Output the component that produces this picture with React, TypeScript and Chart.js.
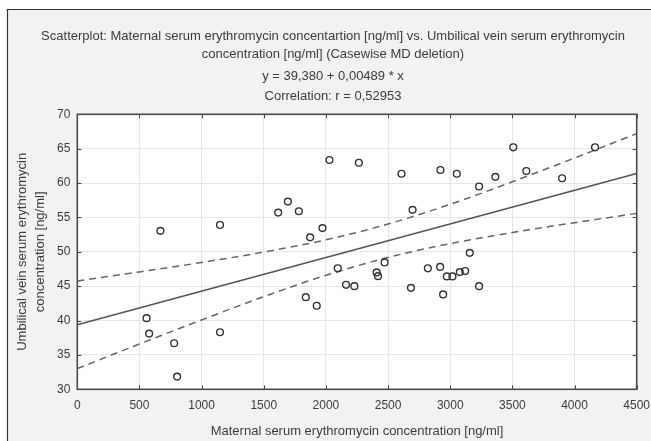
import React, { useEffect, useRef } from "react";
import { Chart, registerables } from "chart.js";

Chart.register(...registerables);

// Scatter data
const maternalX = [557, 578, 669, 779, 803, 1148, 1148, 1616, 1694, 1782, 1838, 1873, 1926, 1972, 2028, 2095, 2162, 2229, 2265, 2408, 2419, 2472, 2608, 2684, 2697, 2820, 2919, 2921, 2943, 2973, 3018, 3053, 3077, 3120, 3157, 3232, 3232, 3363, 3507, 3612, 3900, 4165];
const umbilicalY = [40.35, 38.1, 53.05, 36.7, 31.85, 53.9, 38.3, 55.7, 57.3, 55.9, 43.4, 52.1, 42.15, 53.45, 63.35, 47.6, 45.2, 45.0, 62.95, 47.0, 46.46, 48.45, 61.35, 44.76, 56.1, 47.6, 47.8, 61.9, 43.8, 46.42, 46.42, 61.35, 47.05, 47.2, 49.85, 59.5, 45.0, 60.9, 65.2, 61.75, 60.7, 65.2];

// Regression line end points (y = 39,380 + 0,00489 * x)
const regX = [0, 4500];
const regY = [39.38, 61.385];

// 95% confidence band, read at each 500 step
const bandX = [0, 500, 1000, 1500, 2000, 2500, 3000, 3500, 4000, 4500];
const bandUpper = [45.75, 47.07, 48.45, 49.96, 51.74, 54.04, 56.91, 60.19, 63.64, 67.19];
const bandLower = [33.01, 36.59, 40.09, 43.48, 46.58, 49.18, 51.19, 52.81, 54.24, 55.59];

// Tick labels
const xTickLabels = ["0", "500", "1000", "1500", "2000", "2500", "3000", "3500", "4000", "4500"];
const yTickLabels = ["30", "35", "40", "45", "50", "55", "60", "65", "70"];

// Texts
const titleLines = [
  "Scatterplot: Maternal serum erythromycin concentartion [ng/ml] vs. Umbilical vein serum erythromycin",
  "concentration [ng/ml] (Casewise MD deletion)",
  "y = 39,380 + 0,00489 * x",
  "Correlation: r = 0,52953",
];
const xTitle = "Maternal serum erythromycin concentration [ng/ml]";
const yTitle = ["Umbilical vein serum erythromycin", "concentration [ng/ml]"];

const FONT = "'Liberation Sans', Arial, sans-serif";
const TEXT = "#3c3c3c";

const framePlugin = {
  id: "framePlugin",
  beforeDraw(chart: any) {
    const { ctx, chartArea: a, width, height } = chart;
    ctx.save();
    ctx.fillStyle = "#ffffff";
    ctx.fillRect(0, 0, width, height);
    ctx.fillStyle = "#f2f2f2";
    ctx.fillRect(7, 9, width - 7, height - 9);
    ctx.strokeStyle = "#333333";
    ctx.lineWidth = 1.2;
    ctx.beginPath();
    ctx.moveTo(7.5, height);
    ctx.lineTo(7.5, 9.5);
    ctx.lineTo(width, 9.5);
    ctx.stroke();
    ctx.fillStyle = "#ffffff";
    ctx.fillRect(a.left, a.top, a.right - a.left, a.bottom - a.top);
    // title
    ctx.fillStyle = TEXT;
    ctx.font = "13px " + FONT;
    ctx.textAlign = "center";
    ctx.textBaseline = "middle";
    const ys = [36.7, 54.3, 76.7, 96.7];
    titleLines.forEach((t, i) => ctx.fillText(t, 333, ys[i]));
    ctx.restore();
  },
  afterDatasetsDraw(chart: any) {
    const { ctx, chartArea: a, scales } = chart;
    ctx.save();
    ctx.strokeStyle = "#444444";
    ctx.lineWidth = 1;
    const len = 4;
    ctx.beginPath();
    scales.x.ticks.forEach((t: any) => {
      const px = Math.round(scales.x.getPixelForValue(t.value)) + 0.5;
      ctx.moveTo(px, a.top);
      ctx.lineTo(px, a.top + len);
      ctx.moveTo(px, a.bottom);
      ctx.lineTo(px, a.bottom - len);
    });
    scales.y.ticks.forEach((t: any) => {
      const py = Math.round(scales.y.getPixelForValue(t.value)) + 0.5;
      ctx.moveTo(a.left, py);
      ctx.lineTo(a.left + len, py);
      ctx.moveTo(a.right, py);
      ctx.lineTo(a.right - len, py);
    });
    ctx.stroke();
    ctx.strokeStyle = "#4a4a4a";
    ctx.lineWidth = 1.6;
    ctx.strokeRect(a.left, a.top, a.right - a.left, a.bottom - a.top);
    ctx.restore();
  },
};

export default function App() {
  const ref = useRef<HTMLCanvasElement>(null);
  useEffect(() => {
    if (!ref.current) return;
    const points = maternalX.map((x, i) => ({ x, y: umbilicalY[i] }));
    const reg = regX.map((x, i) => ({ x, y: regY[i] }));
    const up = bandX.map((x, i) => ({ x, y: bandUpper[i] }));
    const lo = bandX.map((x, i) => ({ x, y: bandLower[i] }));
    const chart = new Chart(ref.current, {
      type: "scatter",
      data: {
        datasets: [
          {
            data: points,
            showLine: false,
            pointStyle: "circle",
            pointRadius: 3.4,
            pointBackgroundColor: "rgba(0,0,0,0)",
            pointBorderColor: "#333333",
            pointBorderWidth: 1.4,
          },
          {
            data: reg,
            showLine: true,
            pointRadius: 0,
            borderColor: "#555555",
            borderWidth: 1.5,
          },
          {
            data: up,
            showLine: true,
            pointRadius: 0,
            borderColor: "#666666",
            borderWidth: 1.5,
            borderDash: [7, 5],
            cubicInterpolationMode: "monotone",
          },
          {
            data: lo,
            showLine: true,
            pointRadius: 0,
            borderColor: "#666666",
            borderWidth: 1.5,
            borderDash: [7, 5],
            cubicInterpolationMode: "monotone",
          },
        ],
      } as any,
      options: {
        responsive: false,
        animation: false,
        devicePixelRatio: 1,
        layout: { padding: { top: 114.3, right: 14.3, left: 0, bottom: 0 } },
        plugins: {
          legend: { display: false },
          tooltip: { enabled: false },
          title: { display: false },
        },
        scales: {
          x: {
            type: "linear",
            min: 0,
            max: 4500,
            afterFit: (s: any) => {
              s.height = 51.7;
              s.paddingRight = 0;
              s.paddingLeft = 0;
            },
            ticks: {
              stepSize: 500,
              padding: 9,
              color: TEXT,
              font: { size: 12, family: FONT },
              maxRotation: 0,
              callback: (_v: any, i: number) => xTickLabels[i],
            },
            grid: { color: "#e6e6e6", lineWidth: 1, drawTicks: false },
            border: { display: false },
            title: {
              display: true,
              text: xTitle,
              color: TEXT,
              font: { size: 13, family: FONT },
              padding: { top: 0, bottom: 2 },
            },
          },
          y: {
            type: "linear",
            min: 30,
            max: 70,
            afterFit: (s: any) => {
              s.width = 77.3;
              s.paddingTop = 0;
              s.paddingBottom = 0;
            },
            ticks: {
              stepSize: 5,
              padding: 7,
              color: TEXT,
              font: { size: 12, family: FONT },
              callback: (_v: any, i: number) => yTickLabels[i],
            },
            grid: { color: "#e6e6e6", lineWidth: 1, drawTicks: false },
            border: { display: false },
            title: {
              display: true,
              text: yTitle,
              color: TEXT,
              font: { size: 13, family: FONT, lineHeight: 1.33 },
              padding: { top: 14, bottom: 0 },
            },
          },
        },
      } as any,
      plugins: [framePlugin],
    });
    return () => chart.destroy();
  }, []);
  return (
    <div style={{ position: "fixed", left: 0, top: 0, width: 651, height: 441, background: "#fff" }}>
      <canvas ref={ref} width={651} height={441} style={{ display: "block", width: 651, height: 441 }} />
    </div>
  );
}
